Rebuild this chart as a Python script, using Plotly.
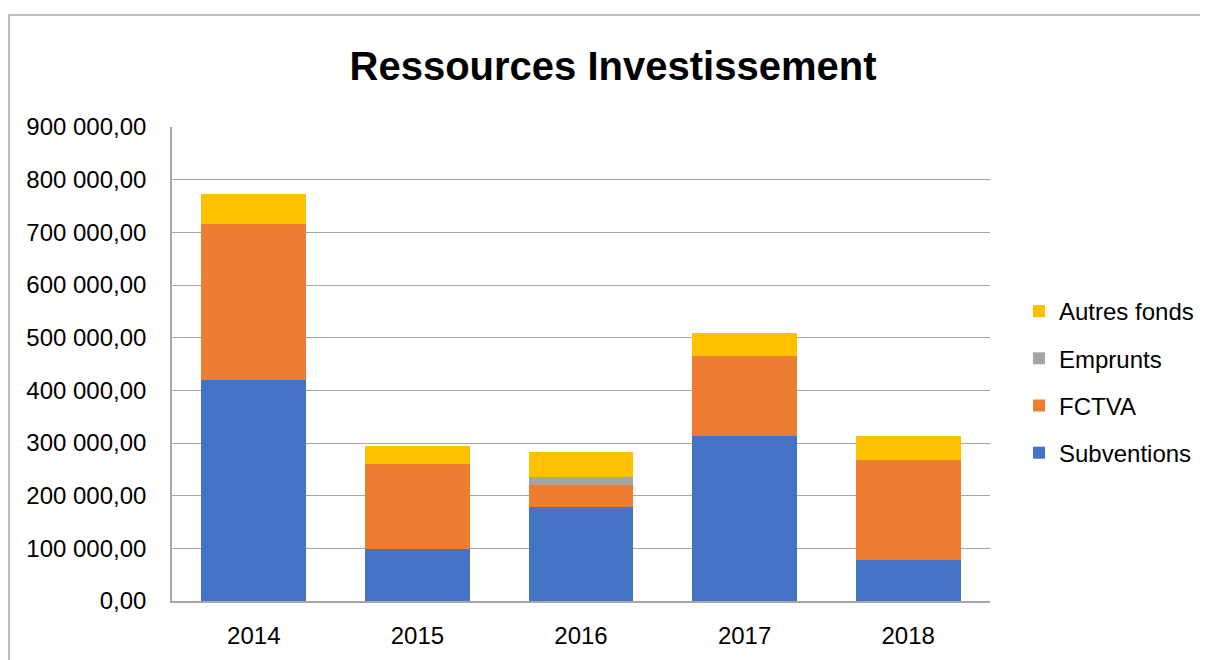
import plotly.graph_objects as go

years = ["2014", "2015", "2016", "2017", "2018"]
subventions = [419000, 98000, 178000, 314000, 77000]
fctva = [297000, 163000, 42000, 152000, 191000]
emprunts = [0, 0, 16000, 0, 0]
autres_fonds = [56000, 33000, 46000, 43000, 45000]

tick_vals = [0, 100000, 200000, 300000, 400000, 500000, 600000, 700000, 800000, 900000]
tick_text = ["0,00", "100 000,00", "200 000,00", "300 000,00", "400 000,00",
             "500 000,00", "600 000,00", "700 000,00", "800 000,00", "900 000,00"]

series = [
    ("Subventions", subventions, "#4472C4", 4),
    ("FCTVA", fctva, "#ED7D31", 3),
    ("Emprunts", emprunts, "#A5A5A5", 2),
    ("Autres fonds", autres_fonds, "#FFC000", 1),
]

FONT = "Liberation Sans"
fig = go.Figure()
for name, vals, color, rank in series:
    fig.add_trace(go.Bar(
        x=years, y=vals, name=name, legendgroup=name, legendrank=rank,
        marker=dict(color=color, line=dict(width=0)),
    ))

# page body has an 8px margin: work in reference pixels, offset by 8
OFF = 8
W, H = 1208 - OFF, 660 - OFF
L, R, T, B = 172 - OFF, 1208 - 990, 127 - OFF, 660 - 601
pw, ph = W - L - R, H - T - B

def px(x):
    return (x - OFF - L) / pw

def py(y):
    return (H - B - (y - OFF)) / ph

fig.update_layout(
    width=W, height=H,
    barmode="stack", bargap=0.36,
    plot_bgcolor="white", paper_bgcolor="white",
    margin=dict(l=L, r=R, t=T, b=B, autoexpand=False),
    font=dict(family=FONT, size=24, color="#000000"),
    title=dict(text="<b>Ressources Investissement</b>", x=(613 - OFF) / W, xanchor="center",
               y=1 - (66 - OFF) / H, yanchor="middle", yref="container",
               font=dict(family=FONT, size=40, color="#000000")),
    legend=dict(traceorder="grouped", x=px(1019), xanchor="left",
                y=py(382), yanchor="middle", tracegroupgap=13,
                font=dict(family=FONT, size=24), bgcolor="rgba(0,0,0,0)"),
    xaxis=dict(showgrid=False, showline=True, linecolor="#A6A6A6", linewidth=1.5,
               ticks="", ticklabelstandoff=12, tickfont=dict(size=24)),
    yaxis=dict(range=[0, 900000], tickvals=tick_vals, ticktext=tick_text,
               showgrid=True, gridcolor="#A6A6A6", gridwidth=1,
               showline=True, linecolor="#A6A6A6", linewidth=1.5,
               zeroline=False, ticks="", ticklabelstandoff=19, tickfont=dict(size=24)),
    shapes=[dict(type="rect", xref="paper", yref="paper",
                 x0=px(9), x1=px(1230), y0=py(690), y1=py(15),
                 line=dict(color="#A6A6A6", width=1.5), fillcolor="rgba(0,0,0,0)",
                 layer="below")],
)

fig.write_html("out.html")
